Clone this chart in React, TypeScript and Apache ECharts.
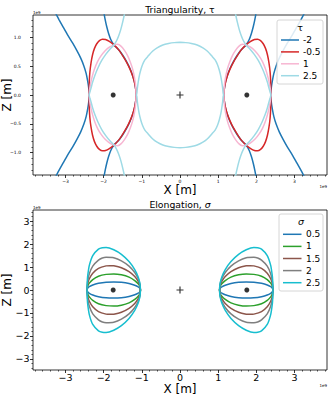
import React, { useEffect, useRef } from "react";
import * as echarts from "echarts";

const FONT = "DejaVu Sans";

// ---- ticks / labels ----
const xTicks = [-3, -2, -1, 0, 1, 2, 3];
const xTickLabels = ["−3", "−2", "−1", "0", "1", "2", "3"];
const zTicksTop = [-1, -0.5, 0, 0.5, 1];
const zTickLabelsTop = ["−1.0", "−0.5", "0.0", "0.5", "1.0"];
const zTicksBottom = [-3, -2, -1, 0, 1, 2, 3];
const zTickLabelsBottom = ["−3", "−2", "−1", "0", "1", "2", "3"];

// ---- legend entries ----
const tauLabels = ["-2", "-0.5", "1", "2.5"];
const tauColors = ["#1f77b4", "#d62728", "#f7b6d2", "#9edae5"];
const sigmaLabels = ["0.5", "1", "1.5", "2", "2.5"];
const sigmaColors = ["#1f77b4", "#2ca02c", "#8c564b", "#7f7f7f", "#17becf"];

// ---- markers (1e9 m) ----
const axisPoints = [[-1.75, 0], [1.75, 0]];
const centrePoint = [[0, 0]];

// ---- Triangularity: upper half of the right-hand curves (x, z in 1e9 m) ----
const tauNeg2Inner = [[1.15, 0], [1.16, 0.1], [1.19, 0.22], [1.24, 0.34], [1.31, 0.46], [1.4, 0.58], [1.5, 0.69], [1.61, 0.79], [1.73, 0.87], [1.81, 0.96], [1.87, 1.07], [1.92, 1.19], [1.96, 1.31], [1.99, 1.42], [2.01, 1.52]];
const tauNeg2Outer = [[2.38, 0], [2.39, 0.12], [2.42, 0.25], [2.46, 0.38], [2.52, 0.51], [2.6, 0.64], [2.7, 0.77], [2.81, 0.9], [2.94, 1.04], [3.06, 1.18], [3.17, 1.31], [3.25, 1.41], [3.33, 1.51]];
const tauNeg05 = [[1.15, 0], [1.16, 0.1], [1.19, 0.21], [1.24, 0.33], [1.31, 0.45], [1.39, 0.56], [1.49, 0.67], [1.6, 0.78], [1.73, 0.87], [1.85, 0.93], [1.95, 0.965], [2.03, 0.97], [2.11, 0.945], [2.18, 0.89], [2.24, 0.81], [2.29, 0.7], [2.33, 0.56], [2.36, 0.4], [2.375, 0.24], [2.38, 0.1], [2.38, 0]];
const tauPos1 = [[1.15, 0], [1.155, 0.1], [1.17, 0.21], [1.2, 0.33], [1.24, 0.45], [1.3, 0.57], [1.37, 0.68], [1.45, 0.77], [1.54, 0.845], [1.63, 0.88], [1.73, 0.87], [1.84, 0.835], [1.96, 0.77], [2.07, 0.68], [2.16, 0.58], [2.24, 0.45], [2.3, 0.32], [2.345, 0.19], [2.37, 0.08], [2.38, 0]];
const tauPos25Outer = [[2.38, 0], [2.36, 0.05], [2.33, 0.12], [2.29, 0.22], [2.23, 0.34], [2.15, 0.47], [2.05, 0.6], [1.94, 0.71], [1.83, 0.8], [1.73, 0.87], [1.67, 0.93], [1.61, 1.02], [1.55, 1.14], [1.5, 1.27], [1.46, 1.39], [1.43, 1.5], [1.4, 1.62]];
const tauPos25Centre = [[0, 0.915], [0.15, 0.91], [0.3, 0.895], [0.45, 0.87], [0.6, 0.82], [0.72, 0.76], [0.83, 0.68], [0.92, 0.61], [0.98, 0.53], [1.03, 0.43], [1.07, 0.32], [1.1, 0.2], [1.12, 0.1], [1.13, 0.03], [1.14, 0]];

// ---- Elongation: upper half of the right-hand curves ----
const sigma05 = [[1.035, 0], [1.055, 0.08], [1.095, 0.14], [1.185, 0.21], [1.335, 0.285], [1.535, 0.335], [1.735, 0.35], [1.935, 0.34], [2.135, 0.29], [2.285, 0.22], [2.375, 0.145], [2.415, 0.085], [2.435, 0]];
const sigma1 = [[1.035, 0], [1.055, 0.16], [1.095, 0.27], [1.185, 0.41], [1.335, 0.56], [1.535, 0.66], [1.735, 0.7], [1.935, 0.68], [2.135, 0.6], [2.285, 0.455], [2.375, 0.3], [2.415, 0.18], [2.435, 0]];
const sigma15 = [[1.035, 0], [1.055, 0.22], [1.095, 0.38], [1.185, 0.59], [1.335, 0.8], [1.535, 0.97], [1.735, 1.05], [1.835, 1.06], [1.935, 1.05], [2.135, 0.94], [2.285, 0.73], [2.375, 0.49], [2.415, 0.29], [2.435, 0]];
const sigma2 = [[1.035, 0], [1.045, 0.2], [1.055, 0.28], [1.095, 0.49], [1.185, 0.76], [1.335, 1.04], [1.535, 1.27], [1.735, 1.4], [1.935, 1.42], [2.035, 1.39], [2.135, 1.3], [2.285, 1.04], [2.375, 0.71], [2.415, 0.42], [2.425, 0.3], [2.435, 0]];
const sigma25 = [[1.035, 0], [1.045, 0.23], [1.055, 0.33], [1.095, 0.57], [1.185, 0.89], [1.335, 1.24], [1.535, 1.55], [1.735, 1.75], [1.935, 1.85], [2.035, 1.84], [2.135, 1.78], [2.285, 1.5], [2.375, 1.07], [2.415, 0.65], [2.425, 0.47], [2.435, 0]];

type Pt = number[];
const negZ = (c: Pt[]) => c.map(([x, z]) => [x, -z]);
const negX = (c: Pt[]) => c.map(([x, z]) => [-x, z]);
// upper half from one tip (z=0) to the other tip (z=0) -> closed curve
const closed = (upper: Pt[]) => [...upper, ...negZ(upper.slice(0, -1).reverse())];
// branch starting at z=0 and going up -> full branch top to bottom
const branch = (upper: Pt[]) => [...upper.slice().reverse(), ...negZ(upper.slice(1))];

const tauCurves: Pt[][][] = [
  [branch(tauNeg2Inner), branch(tauNeg2Outer)],
  [closed(tauNeg05)],
  [closed(tauPos1)],
  [branch(tauPos25Outer)],
];
const sigmaCurves: Pt[][] = [sigma05, sigma1, sigma15, sigma2, sigma25].map(closed);

function centreLoop(q: Pt[]) {
  const right = [...q, ...negZ(q.slice(0, -1).reverse())];
  const left = negX(right.slice().reverse());
  return [...right, ...left.slice(1)];
}

const X_MIN = -3.85, X_MAX = 3.85;

function minorList(lo: number, hi: number, div: number, sub: number) {
  const out: number[] = [];
  for (let i = Math.ceil(lo * div); i <= Math.floor(hi * div); i++) if (i % sub !== 0) out.push(i / div);
  return out;
}

function majorAxis(kind: "x" | "y", grid: number, min: number, max: number, ticks: number[], labels: string[], fontSize: number, margin: number, name: string, nameGap: number) {
  return {
    type: "value", gridIndex: grid, min, max, position: kind === "x" ? "bottom" : "left",
    axisLine: { show: false, onZero: false }, splitLine: { show: false },
    axisTick: { show: true, customValues: ticks, length: 3, lineStyle: { color: "#000", width: 0.8 } },
    axisLabel: {
      show: true, customValues: ticks, fontSize, lineHeight: fontSize, margin, color: "#000", fontFamily: FONT,
      formatter: (v: number) => { const i = ticks.findIndex((t) => Math.abs(t - v) < 1e-9); return i >= 0 ? labels[i] : ""; },
    },
    name, nameLocation: "middle", nameGap, nameMoveOverlap: false,
    nameTextStyle: { fontSize: 12, lineHeight: 12, fontFamily: FONT, color: "#000" },
  };
}
function minorAxis(kind: "x" | "y", grid: number, min: number, max: number, ticks: number[]) {
  return {
    type: "value", gridIndex: grid, min, max, position: kind === "x" ? "bottom" : "left",
    axisLine: { show: false, onZero: false }, splitLine: { show: false }, axisLabel: { show: false },
    axisTick: { show: true, customValues: ticks, length: 1.6, lineStyle: { color: "#000", width: 0.6 } },
  };
}

function legendGraphics(box: number[], title: any, labels: string[], colors: string[], rowY0: number, rowStep: number, lineX: number[], textX: number) {
  const els: any[] = [
    { type: "rect", z: 100, shape: { x: box[0], y: box[1], width: box[2], height: box[3], r: 2 }, style: { fill: "rgba(255,255,255,0.85)", stroke: "#cccccc", lineWidth: 0.8 } },
    { type: "text", z: 101, x: box[0] + box[2] / 2, y: title.y, style: { text: title.text, fontSize: 9.5, fontFamily: FONT, fontStyle: title.italic ? "italic" : "normal", fill: "#000", align: "center", verticalAlign: "middle" } },
  ];
  labels.forEach((lab, i) => {
    const y = rowY0 + i * rowStep;
    els.push({ type: "line", z: 101, shape: { x1: lineX[0], y1: y, x2: lineX[1], y2: y }, style: { stroke: colors[i], lineWidth: 1.5 } });
    els.push({ type: "text", z: 101, x: textX, y, style: { text: lab, fontSize: 9, fontFamily: FONT, fill: "#000", align: "left", verticalAlign: "middle" } });
  });
  return els;
}

export default function App() {
  const ref = useRef<HTMLDivElement>(null);
  useEffect(() => {
    document.body.style.margin = "0";
    const chart = echarts.init(ref.current!, null, { renderer: "svg" });
    const series: any[] = [];
    const lineStyleFor = (c: string) => ({ color: c, width: 1.5 });
    tauCurves.forEach((curves, i) => {
      curves.forEach((c) => {
        [c, negX(c)].forEach((d) => series.push({ type: "line", xAxisIndex: 0, yAxisIndex: 0, data: d, showSymbol: false, symbol: "none", smooth: 0.25, lineStyle: lineStyleFor(tauColors[i]), color: tauColors[i], silent: true }));
      });
      if (i === 3) series.push({ type: "line", xAxisIndex: 0, yAxisIndex: 0, data: centreLoop(tauPos25Centre), showSymbol: false, symbol: "none", smooth: 0.25, lineStyle: lineStyleFor(tauColors[i]), color: tauColors[i], silent: true });
    });
    sigmaCurves.forEach((c, i) => {
      [c, negX(c)].forEach((d) => series.push({ type: "line", xAxisIndex: 2, yAxisIndex: 2, data: d, showSymbol: false, symbol: "none", smooth: 0.25, lineStyle: lineStyleFor(sigmaColors[i]), color: sigmaColors[i], silent: true }));
    });
    const plusPath = "path://M5,0H7V5H12V7H7V12H5V7H0V5H5Z";
    [[0, 0], [2, 2]].forEach(([xi, yi]) => {
      series.push({ type: "scatter", xAxisIndex: xi, yAxisIndex: yi, data: axisPoints, symbol: "circle", symbolSize: 5, itemStyle: { color: "#000" }, z: 5, silent: true });
      series.push({ type: "scatter", xAxisIndex: xi, yAxisIndex: yi, data: centrePoint, symbol: plusPath, symbolSize: 7, itemStyle: { color: "#000" }, z: 5, silent: true });
    });

    const gridStyle = { show: true, borderColor: "#000", borderWidth: 0.8, backgroundColor: "transparent", containLabel: false, outerBoundsMode: "none" };
    const option: any = {
      animation: false,
      textStyle: { fontFamily: FONT },
      grid: [
        { left: 33, top: 15, width: 294, height: 160, ...gridStyle },
        { left: 33, top: 210, width: 294, height: 160, ...gridStyle },
      ],
      xAxis: [
        majorAxis("x", 0, X_MIN, X_MAX, xTicks, xTickLabels, 4.5, 4, "X [m]", 9),
        minorAxis("x", 0, X_MIN, X_MAX, minorList(X_MIN, X_MAX, 5, 5)),
        majorAxis("x", 1, X_MIN, X_MAX, xTicks, xTickLabels, 9.5, 2.5, "X [m]", 12.5),
        minorAxis("x", 1, X_MIN, X_MAX, minorList(X_MIN, X_MAX, 5, 5)),
      ],
      yAxis: [
        majorAxis("y", 0, -1.39, 1.39, zTicksTop, zTickLabelsTop, 4.5, 12, "Z [m]", 20),
        minorAxis("y", 0, -1.39, 1.39, minorList(-1.39, 1.39, 10, 5)),
        majorAxis("y", 1, -3.48, 3.48, zTicksBottom, zTickLabelsBottom, 9.5, 3.5, "Z [m]", 20),
        minorAxis("y", 1, -3.48, 3.48, minorList(-3.48, 3.48, 5, 5)),
      ],
      series,
      graphic: [
        { type: "text", z: 100, x: 180, y: 9, style: { text: "Triangularity, τ", fontSize: 9.3, fontFamily: FONT, fill: "#000", align: "center", verticalAlign: "middle" } },
        { type: "text", z: 100, x: 180, y: 204, style: { text: "{a|Elongation, }{b|σ}", rich: { a: { fontSize: 9.3, fontFamily: FONT, fill: "#000" }, b: { fontSize: 9.3, fontFamily: FONT, fontStyle: "italic", fill: "#000" } }, align: "center", verticalAlign: "middle" } },
        { type: "text", z: 100, x: 33, y: 12.5, style: { text: "1e9", fontSize: 4, fontFamily: FONT, fill: "#000", align: "left", verticalAlign: "middle" } },
        { type: "text", z: 100, x: 327, y: 186, style: { text: "1e9", fontSize: 4, fontFamily: FONT, fill: "#000", align: "right", verticalAlign: "middle" } },
        { type: "text", z: 100, x: 33, y: 207.5, style: { text: "1e9", fontSize: 4, fontFamily: FONT, fill: "#000", align: "left", verticalAlign: "middle" } },
        { type: "text", z: 100, x: 327, y: 385.5, style: { text: "1e9", fontSize: 4, fontFamily: FONT, fill: "#000", align: "right", verticalAlign: "middle" } },
        ...legendGraphics([277, 20, 46, 64], { text: "τ", y: 27.5, italic: false }, tauLabels, tauColors, 40, 11.9, [281, 299], 303),
        ...legendGraphics([279, 214, 44, 77], { text: "σ", y: 221.5, italic: true }, sigmaLabels, sigmaColors, 234.3, 12.1, [283, 301.5], 306),
      ],
    };
    chart.setOption(option);
    return () => chart.dispose();
  }, []);
  return <div ref={ref} style={{ width: 332, height: 399 }} />;
}
